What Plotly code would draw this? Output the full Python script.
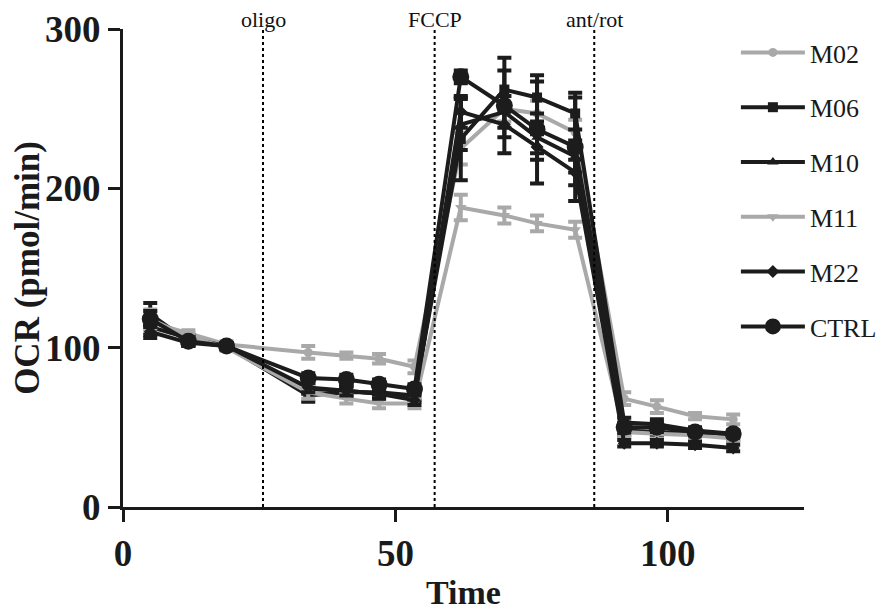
import plotly.graph_objects as go

time = [5, 12, 19, 34, 41, 47, 53.5, 62, 70, 76, 83, 92, 98, 105, 112]

series_names = ["M02", "M06", "M10", "M11", "M22", "CTRL"]
m02 = [116, 109, 102, 97, 95, 93, 88, 225, 250, 247, 235, 68, 63, 57, 55]
m06 = [121, 104, 101, 70, 72, 72, 70, 231, 262, 257, 247, 53, 52, 48, 46]
m10 = [113, 106, 101, 74, 73, 71, 69, 240, 248, 232, 220, 48, 47, 46, 44]
m11 = [118, 107, 100, 72, 68, 65, 65, 188, 183, 178, 174, 47, 46, 45, 43]
m22 = [110, 103, 101, 75, 73, 71, 67, 248, 240, 226, 210, 40, 40, 39, 37]
ctrl = [118, 104, 101, 81, 80, 77, 74, 270, 252, 237, 226, 50, 50, 47, 46]

m02_err = [6, 2, 2, 4, 2, 3, 4, 10, 8, 8, 8, 4, 4, 2, 3]
m06_err = [7, 3, 2, 4, 3, 3, 3, 26, 12, 10, 10, 3, 3, 2, 2]
m10_err = [5, 2, 2, 3, 3, 3, 3, 16, 10, 10, 10, 3, 3, 2, 2]
m11_err = [6, 2, 2, 4, 3, 3, 3, 8, 5, 5, 5, 3, 3, 2, 2]
m22_err = [4, 2, 2, 3, 3, 3, 3, 10, 8, 8, 8, 2, 2, 2, 2]
ctrl_err = [5, 2, 2, 3, 3, 3, 3, 4, 30, 34, 34, 3, 3, 2, 2]

injections = [25.7, 57.2, 86.5]
injection_labels = ["oligo", "FCCP", "ant/rot"]

GRAY = "#a9a9a9"
DARK = "#1c1c1c"

styles = {
    "M02": dict(color=GRAY, symbol="circle", size=9),
    "M06": dict(color=DARK, symbol="square", size=10),
    "M10": dict(color=DARK, symbol="triangle-up", size=10),
    "M11": dict(color=GRAY, symbol="triangle-down", size=10),
    "M22": dict(color=DARK, symbol="diamond", size=10),
    "CTRL": dict(color=DARK, symbol="circle", size=17),
}
values = {"M02": m02, "M06": m06, "M10": m10, "M11": m11, "M22": m22, "CTRL": ctrl}
errors = {"M02": m02_err, "M06": m06_err, "M10": m10_err, "M11": m11_err, "M22": m22_err, "CTRL": ctrl_err}

fig = go.Figure()
for name in series_names:
    st = styles[name]
    fig.add_trace(go.Scatter(
        x=time, y=values[name], name=name, mode="lines+markers",
        legendgroup=name,
        line=dict(color=st["color"], width=4),
        marker=dict(color=st["color"], symbol=st["symbol"], size=st["size"]),
        error_y=dict(type="data", array=errors[name], color=st["color"], thickness=4, width=7),
    ))

for xv, lab in zip(injections, injection_labels):
    fig.add_shape(type="line", xref="x", yref="paper", x0=xv, x1=xv, y0=0, y1=1.0,
                  line=dict(color="black", width=2, dash="dot"))
    fig.add_annotation(x=xv, y=1.0, xref="x", yref="paper", text=lab, showarrow=False,
                       yanchor="bottom", yshift=-5,
                       font=dict(family="Liberation Serif", size=22, color="#111"))

tick_font = dict(family="Liberation Serif", size=37, color="#1a1a1a", weight="bold")
axis_common = dict(showgrid=False, zeroline=False, showline=True, linecolor="#1a1a1a",
                   linewidth=3, ticks="outside", ticklen=12, tickwidth=3, tickcolor="#1a1a1a",
                   automargin=False, tickfont=tick_font)

fig.update_layout(
    width=886, height=603,
    margin=dict(l=115, r=81, t=21, b=104),
    paper_bgcolor="white", plot_bgcolor="white",
    xaxis=dict(range=[0, 125], tickvals=[0, 50, 100], **axis_common,
               title=dict(text="Time", standoff=18,
                          font=dict(family="Liberation Serif", size=34, color="#1a1a1a", weight="bold"))),
    yaxis=dict(range=[0, 300], tickvals=[0, 100, 200, 300], **axis_common,
               title=dict(text="OCR (pmol/min)", standoff=12,
                          font=dict(family="Liberation Serif", size=35, color="#1a1a1a", weight="bold"))),
    legend=dict(x=0.9, y=1.0, xanchor="left", yanchor="top", tracegroupgap=18,
                itemwidth=64,
                font=dict(family="Liberation Serif", size=26, color="#1a1a1a"),
                bgcolor="rgba(0,0,0,0)"),
    showlegend=True,
)

fig.write_html("out.html")
